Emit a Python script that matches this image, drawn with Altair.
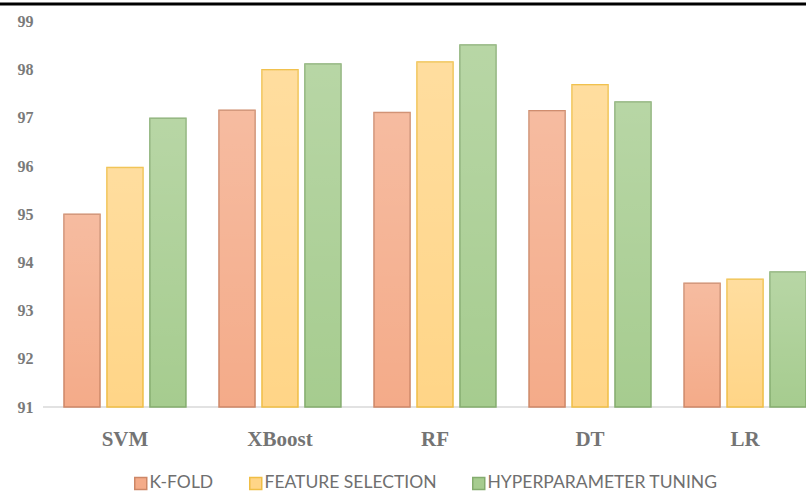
import altair as alt
import pandas as pd

models = ["SVM", "XBoost", "RF", "DT", "LR"]
series = ["K-FOLD", "FEATURE SELECTION", "HYPERPARAMETER TUNING"]
kfold = [95.00, 97.16, 97.11, 97.15, 93.57]
feature_selection = [95.97, 98.00, 98.16, 97.69, 93.65]
hyper_tuning = [96.99, 98.12, 98.51, 97.33, 93.80]
y_ticks = [91, 92, 93, 94, 95, 96, 97, 98, 99]

rows = []
for s, vals in zip(series, [kfold, feature_selection, hyper_tuning]):
    for m, v in zip(models, vals):
        rows.append({"model": m, "series": s, "value": v})
df = pd.DataFrame(rows)

W = 742
H = 385.5
L = 64
T = 21.5

fills = ["#F4AB89", "#FFD587", "#A6CC8F"]
strokes = ["#CD8767", "#F0BE45", "#84AC6E"]

x = alt.X(
    "model:N", sort=models,
    scale=alt.Scale(paddingInner=0.2134, paddingOuter=0),
    axis=alt.Axis(title=None, labelAngle=0, domain=False, ticks=False,
                  labelFont="Liberation Serif", labelFontWeight="bold",
                  labelFontSize=21, labelColor="#747474", labelPadding=21),
)
xo = alt.XOffset("series:N", sort=series,
                 scale=alt.Scale(paddingInner=0.162, paddingOuter=0))
y = alt.Y(
    "value:Q",
    scale=alt.Scale(domain=[91, 99], nice=False, zero=False),
    axis=alt.Axis(title=None, values=y_ticks, domain=False, ticks=False, grid=False,
                  labelFont="Liberation Serif", labelFontWeight="bold",
                  labelFontSize=16, labelColor="#7A7A7A", labelPadding=31, format="d"),
)

leg = alt.Legend(title=None, orient="none", legendX=68, legendY=453,
                 direction="horizontal", symbolType="square", symbolSize=144,
                 symbolStrokeWidth=1.5, labelFont="Lato", labelFontSize=17.5,
                 labelColor="#6F6F6F", labelOffset=0, columnPadding=32,
                 labelLimit=400)

one = pd.DataFrame({"a": [0]})
top_line = alt.Chart(one).mark_rule(color="black", strokeWidth=3).encode(
    x=alt.value(-L), x2=alt.value(W), y=alt.value(-T + 4))
base_line = alt.Chart(one).mark_rule(color="#D9D9D9", strokeWidth=1.5).encode(
    x=alt.value(-21), x2=alt.value(W), y=alt.value(H))

bars = alt.Chart(df).mark_bar(strokeWidth=1.5).encode(
    x=x, xOffset=xo, y=y, y2=alt.datum(91),
    fill=alt.Fill("series:N", sort=series,
                  scale=alt.Scale(domain=series, range=fills), legend=leg),
    stroke=alt.Stroke("series:N", sort=series,
                      scale=alt.Scale(domain=series, range=strokes), legend=leg),
)

shine = alt.Chart(df).mark_bar(
    strokeWidth=0,
    fill=alt.Gradient(
        gradient="linear", x1=0, x2=0, y1=0, y2=1,
        stops=[alt.GradientStop(color="rgba(255,255,255,0.2)", offset=0),
               alt.GradientStop(color="rgba(255,255,255,0)", offset=1)],
    ),
).encode(x=x, xOffset=xo, y=y, y2=alt.datum(91))

chart = alt.layer(base_line, bars, shine, top_line).properties(
    width=W, height=H,
    autosize=alt.AutoSizeParams(type="none"),
    padding={"left": L, "top": T, "right": 0, "bottom": 491 - T - H},
).configure_view(stroke=None)

chart.save("out.html", embed_options={"renderer": "svg", "actions": False})
